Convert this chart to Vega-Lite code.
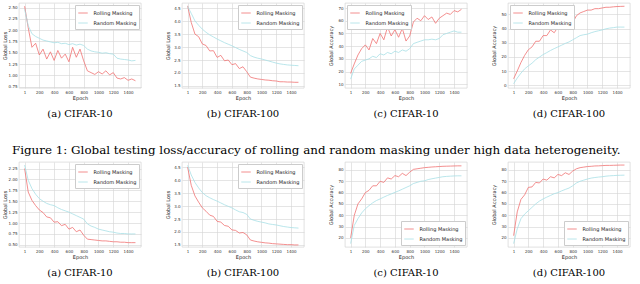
{
  "$schema": "https://vega.github.io/schema/vega-lite/v6.json",
  "padding": {"left": 2, "top": 2, "right": 2, "bottom": 2},
  "background": "white",
  "datasets": {
    "a1": [
      {"s":"Rolling Masking","e":1,"v":2.53},{"s":"Rolling Masking","e":50,"v":2.05},{"s":"Rolling Masking","e":100,"v":1.62},{"s":"Rolling Masking","e":150,"v":1.71},{"s":"Rolling Masking","e":200,"v":1.45},{"s":"Rolling Masking","e":250,"v":1.58},{"s":"Rolling Masking","e":300,"v":1.36},{"s":"Rolling Masking","e":350,"v":1.52},{"s":"Rolling Masking","e":400,"v":1.33},{"s":"Rolling Masking","e":450,"v":1.55},{"s":"Rolling Masking","e":500,"v":1.38},{"s":"Rolling Masking","e":550,"v":1.47},{"s":"Rolling Masking","e":600,"v":1.30},{"s":"Rolling Masking","e":650,"v":1.62},{"s":"Rolling Masking","e":700,"v":1.40},{"s":"Rolling Masking","e":750,"v":1.58},{"s":"Rolling Masking","e":800,"v":1.32},{"s":"Rolling Masking","e":850,"v":1.10},{"s":"Rolling Masking","e":900,"v":1.06},{"s":"Rolling Masking","e":950,"v":1.02},{"s":"Rolling Masking","e":1000,"v":1.08},{"s":"Rolling Masking","e":1050,"v":1.03},{"s":"Rolling Masking","e":1100,"v":1.10},{"s":"Rolling Masking","e":1150,"v":1.01},{"s":"Rolling Masking","e":1200,"v":1.06},{"s":"Rolling Masking","e":1250,"v":0.94},{"s":"Rolling Masking","e":1300,"v":0.92},{"s":"Rolling Masking","e":1350,"v":0.95},{"s":"Rolling Masking","e":1400,"v":0.89},{"s":"Rolling Masking","e":1450,"v":0.92},{"s":"Rolling Masking","e":1500,"v":0.88},
      {"s":"Random Masking","e":1,"v":2.46},{"s":"Random Masking","e":50,"v":2.10},{"s":"Random Masking","e":100,"v":1.92},{"s":"Random Masking","e":150,"v":1.86},{"s":"Random Masking","e":200,"v":1.82},{"s":"Random Masking","e":250,"v":1.78},{"s":"Random Masking","e":300,"v":1.76},{"s":"Random Masking","e":350,"v":1.74},{"s":"Random Masking","e":400,"v":1.72},{"s":"Random Masking","e":450,"v":1.73},{"s":"Random Masking","e":500,"v":1.70},{"s":"Random Masking","e":550,"v":1.71},{"s":"Random Masking","e":600,"v":1.68},{"s":"Random Masking","e":650,"v":1.70},{"s":"Random Masking","e":700,"v":1.67},{"s":"Random Masking","e":750,"v":1.69},{"s":"Random Masking","e":800,"v":1.66},{"s":"Random Masking","e":850,"v":1.58},{"s":"Random Masking","e":900,"v":1.54},{"s":"Random Masking","e":950,"v":1.52},{"s":"Random Masking","e":1000,"v":1.51},{"s":"Random Masking","e":1050,"v":1.49},{"s":"Random Masking","e":1100,"v":1.50},{"s":"Random Masking","e":1150,"v":1.48},{"s":"Random Masking","e":1200,"v":1.47},{"s":"Random Masking","e":1250,"v":1.38},{"s":"Random Masking","e":1300,"v":1.36},{"s":"Random Masking","e":1350,"v":1.35},{"s":"Random Masking","e":1400,"v":1.34},{"s":"Random Masking","e":1450,"v":1.32},{"s":"Random Masking","e":1500,"v":1.33}
    ],
    "b1": [
      {"s":"Rolling Masking","e":1,"v":4.59},{"s":"Rolling Masking","e":50,"v":3.95},{"s":"Rolling Masking","e":100,"v":3.50},{"s":"Rolling Masking","e":150,"v":3.40},{"s":"Rolling Masking","e":200,"v":3.12},{"s":"Rolling Masking","e":250,"v":3.06},{"s":"Rolling Masking","e":300,"v":2.85},{"s":"Rolling Masking","e":350,"v":2.86},{"s":"Rolling Masking","e":400,"v":2.60},{"s":"Rolling Masking","e":450,"v":2.68},{"s":"Rolling Masking","e":500,"v":2.47},{"s":"Rolling Masking","e":550,"v":2.50},{"s":"Rolling Masking","e":600,"v":2.32},{"s":"Rolling Masking","e":650,"v":2.36},{"s":"Rolling Masking","e":700,"v":2.17},{"s":"Rolling Masking","e":750,"v":2.24},{"s":"Rolling Masking","e":800,"v":2.05},{"s":"Rolling Masking","e":850,"v":1.84},{"s":"Rolling Masking","e":900,"v":1.80},{"s":"Rolling Masking","e":950,"v":1.77},{"s":"Rolling Masking","e":1000,"v":1.75},{"s":"Rolling Masking","e":1050,"v":1.73},{"s":"Rolling Masking","e":1100,"v":1.72},{"s":"Rolling Masking","e":1150,"v":1.70},{"s":"Rolling Masking","e":1200,"v":1.69},{"s":"Rolling Masking","e":1250,"v":1.66},{"s":"Rolling Masking","e":1300,"v":1.66},{"s":"Rolling Masking","e":1350,"v":1.65},{"s":"Rolling Masking","e":1400,"v":1.65},{"s":"Rolling Masking","e":1450,"v":1.64},{"s":"Rolling Masking","e":1500,"v":1.64},
      {"s":"Random Masking","e":1,"v":4.57},{"s":"Random Masking","e":50,"v":4.30},{"s":"Random Masking","e":100,"v":4.01},{"s":"Random Masking","e":150,"v":3.84},{"s":"Random Masking","e":200,"v":3.69},{"s":"Random Masking","e":250,"v":3.57},{"s":"Random Masking","e":300,"v":3.47},{"s":"Random Masking","e":350,"v":3.39},{"s":"Random Masking","e":400,"v":3.31},{"s":"Random Masking","e":450,"v":3.24},{"s":"Random Masking","e":500,"v":3.17},{"s":"Random Masking","e":550,"v":3.11},{"s":"Random Masking","e":600,"v":3.05},{"s":"Random Masking","e":650,"v":2.98},{"s":"Random Masking","e":700,"v":2.91},{"s":"Random Masking","e":750,"v":2.85},{"s":"Random Masking","e":800,"v":2.79},{"s":"Random Masking","e":850,"v":2.67},{"s":"Random Masking","e":900,"v":2.61},{"s":"Random Masking","e":950,"v":2.57},{"s":"Random Masking","e":1000,"v":2.54},{"s":"Random Masking","e":1050,"v":2.50},{"s":"Random Masking","e":1100,"v":2.46},{"s":"Random Masking","e":1150,"v":2.42},{"s":"Random Masking","e":1200,"v":2.38},{"s":"Random Masking","e":1250,"v":2.35},{"s":"Random Masking","e":1300,"v":2.33},{"s":"Random Masking","e":1350,"v":2.31},{"s":"Random Masking","e":1400,"v":2.30},{"s":"Random Masking","e":1450,"v":2.29},{"s":"Random Masking","e":1500,"v":2.28}
    ],
    "c1": [
      {"s":"Rolling Masking","e":1,"v":18.5},{"s":"Rolling Masking","e":50,"v":26},{"s":"Rolling Masking","e":100,"v":33},{"s":"Rolling Masking","e":150,"v":38},{"s":"Rolling Masking","e":200,"v":41},{"s":"Rolling Masking","e":250,"v":37},{"s":"Rolling Masking","e":300,"v":46},{"s":"Rolling Masking","e":350,"v":42},{"s":"Rolling Masking","e":400,"v":50},{"s":"Rolling Masking","e":450,"v":45},{"s":"Rolling Masking","e":500,"v":55},{"s":"Rolling Masking","e":550,"v":48},{"s":"Rolling Masking","e":600,"v":53},{"s":"Rolling Masking","e":650,"v":47},{"s":"Rolling Masking","e":700,"v":54},{"s":"Rolling Masking","e":750,"v":44},{"s":"Rolling Masking","e":800,"v":48},{"s":"Rolling Masking","e":850,"v":59},{"s":"Rolling Masking","e":900,"v":62},{"s":"Rolling Masking","e":950,"v":60},{"s":"Rolling Masking","e":1000,"v":64},{"s":"Rolling Masking","e":1050,"v":61},{"s":"Rolling Masking","e":1100,"v":63},{"s":"Rolling Masking","e":1150,"v":58},{"s":"Rolling Masking","e":1200,"v":62},{"s":"Rolling Masking","e":1250,"v":64},{"s":"Rolling Masking","e":1300,"v":66},{"s":"Rolling Masking","e":1350,"v":65},{"s":"Rolling Masking","e":1400,"v":68},{"s":"Rolling Masking","e":1450,"v":67},{"s":"Rolling Masking","e":1500,"v":69},
      {"s":"Random Masking","e":1,"v":14},{"s":"Random Masking","e":50,"v":22},{"s":"Random Masking","e":100,"v":25},{"s":"Random Masking","e":150,"v":28},{"s":"Random Masking","e":200,"v":29},{"s":"Random Masking","e":250,"v":30},{"s":"Random Masking","e":300,"v":32},{"s":"Random Masking","e":350,"v":31},{"s":"Random Masking","e":400,"v":34},{"s":"Random Masking","e":450,"v":33},{"s":"Random Masking","e":500,"v":35},{"s":"Random Masking","e":550,"v":34},{"s":"Random Masking","e":600,"v":36},{"s":"Random Masking","e":650,"v":35},{"s":"Random Masking","e":700,"v":37},{"s":"Random Masking","e":750,"v":36},{"s":"Random Masking","e":800,"v":38},{"s":"Random Masking","e":850,"v":42},{"s":"Random Masking","e":900,"v":43},{"s":"Random Masking","e":950,"v":44},{"s":"Random Masking","e":1000,"v":45},{"s":"Random Masking","e":1050,"v":45},{"s":"Random Masking","e":1100,"v":45.5},{"s":"Random Masking","e":1150,"v":45},{"s":"Random Masking","e":1200,"v":46},{"s":"Random Masking","e":1250,"v":49},{"s":"Random Masking","e":1300,"v":50},{"s":"Random Masking","e":1350,"v":51},{"s":"Random Masking","e":1400,"v":52},{"s":"Random Masking","e":1450,"v":51},{"s":"Random Masking","e":1500,"v":51}
    ],
    "d1": [
      {"s":"Rolling Masking","e":1,"v":4.5},{"s":"Rolling Masking","e":50,"v":10},{"s":"Rolling Masking","e":100,"v":16},{"s":"Rolling Masking","e":150,"v":21},{"s":"Rolling Masking","e":200,"v":25},{"s":"Rolling Masking","e":250,"v":27},{"s":"Rolling Masking","e":300,"v":31},{"s":"Rolling Masking","e":350,"v":31},{"s":"Rolling Masking","e":400,"v":35},{"s":"Rolling Masking","e":450,"v":35},{"s":"Rolling Masking","e":500,"v":39},{"s":"Rolling Masking","e":550,"v":37},{"s":"Rolling Masking","e":600,"v":41},{"s":"Rolling Masking","e":650,"v":40},{"s":"Rolling Masking","e":700,"v":43},{"s":"Rolling Masking","e":750,"v":41},{"s":"Rolling Masking","e":800,"v":44},{"s":"Rolling Masking","e":850,"v":49},{"s":"Rolling Masking","e":900,"v":51},{"s":"Rolling Masking","e":950,"v":52},{"s":"Rolling Masking","e":1000,"v":53},{"s":"Rolling Masking","e":1050,"v":53},{"s":"Rolling Masking","e":1100,"v":54},{"s":"Rolling Masking","e":1150,"v":54},{"s":"Rolling Masking","e":1200,"v":54.5},{"s":"Rolling Masking","e":1250,"v":55},{"s":"Rolling Masking","e":1300,"v":55},{"s":"Rolling Masking","e":1350,"v":55.3},{"s":"Rolling Masking","e":1400,"v":55.5},{"s":"Rolling Masking","e":1450,"v":55.6},{"s":"Rolling Masking","e":1500,"v":55.7},
      {"s":"Random Masking","e":1,"v":1},{"s":"Random Masking","e":50,"v":5},{"s":"Random Masking","e":100,"v":8.5},{"s":"Random Masking","e":150,"v":11.5},{"s":"Random Masking","e":200,"v":13.6},{"s":"Random Masking","e":250,"v":15.5},{"s":"Random Masking","e":300,"v":18},{"s":"Random Masking","e":350,"v":19.8},{"s":"Random Masking","e":400,"v":21.6},{"s":"Random Masking","e":450,"v":23},{"s":"Random Masking","e":500,"v":24.5},{"s":"Random Masking","e":550,"v":25.8},{"s":"Random Masking","e":600,"v":27},{"s":"Random Masking","e":650,"v":28.2},{"s":"Random Masking","e":700,"v":29.5},{"s":"Random Masking","e":750,"v":30.5},{"s":"Random Masking","e":800,"v":32},{"s":"Random Masking","e":850,"v":33.5},{"s":"Random Masking","e":900,"v":35},{"s":"Random Masking","e":950,"v":35.6},{"s":"Random Masking","e":1000,"v":36},{"s":"Random Masking","e":1050,"v":37},{"s":"Random Masking","e":1100,"v":37.8},{"s":"Random Masking","e":1150,"v":38.4},{"s":"Random Masking","e":1200,"v":39},{"s":"Random Masking","e":1250,"v":39.8},{"s":"Random Masking","e":1300,"v":40.3},{"s":"Random Masking","e":1350,"v":40.6},{"s":"Random Masking","e":1400,"v":41},{"s":"Random Masking","e":1450,"v":41},{"s":"Random Masking","e":1500,"v":41}
    ],
    "a2": [
      {"s":"Rolling Masking","e":1,"v":2.25},{"s":"Rolling Masking","e":50,"v":1.71},{"s":"Rolling Masking","e":100,"v":1.52},{"s":"Rolling Masking","e":150,"v":1.40},{"s":"Rolling Masking","e":200,"v":1.30},{"s":"Rolling Masking","e":250,"v":1.24},{"s":"Rolling Masking","e":300,"v":1.14},{"s":"Rolling Masking","e":350,"v":1.12},{"s":"Rolling Masking","e":400,"v":1.02},{"s":"Rolling Masking","e":450,"v":1.03},{"s":"Rolling Masking","e":500,"v":0.94},{"s":"Rolling Masking","e":550,"v":0.97},{"s":"Rolling Masking","e":600,"v":0.86},{"s":"Rolling Masking","e":650,"v":0.90},{"s":"Rolling Masking","e":700,"v":0.80},{"s":"Rolling Masking","e":750,"v":0.84},{"s":"Rolling Masking","e":800,"v":0.72},{"s":"Rolling Masking","e":850,"v":0.63},{"s":"Rolling Masking","e":900,"v":0.62},{"s":"Rolling Masking","e":950,"v":0.61},{"s":"Rolling Masking","e":1000,"v":0.60},{"s":"Rolling Masking","e":1050,"v":0.59},{"s":"Rolling Masking","e":1100,"v":0.59},{"s":"Rolling Masking","e":1150,"v":0.58},{"s":"Rolling Masking","e":1200,"v":0.57},{"s":"Rolling Masking","e":1250,"v":0.57},{"s":"Rolling Masking","e":1300,"v":0.56},{"s":"Rolling Masking","e":1350,"v":0.56},{"s":"Rolling Masking","e":1400,"v":0.55},{"s":"Rolling Masking","e":1450,"v":0.55},{"s":"Rolling Masking","e":1500,"v":0.55},
      {"s":"Random Masking","e":1,"v":2.33},{"s":"Random Masking","e":50,"v":1.98},{"s":"Random Masking","e":100,"v":1.79},{"s":"Random Masking","e":150,"v":1.66},{"s":"Random Masking","e":200,"v":1.56},{"s":"Random Masking","e":250,"v":1.50},{"s":"Random Masking","e":300,"v":1.45},{"s":"Random Masking","e":350,"v":1.42},{"s":"Random Masking","e":400,"v":1.40},{"s":"Random Masking","e":450,"v":1.35},{"s":"Random Masking","e":500,"v":1.31},{"s":"Random Masking","e":550,"v":1.28},{"s":"Random Masking","e":600,"v":1.25},{"s":"Random Masking","e":650,"v":1.21},{"s":"Random Masking","e":700,"v":1.17},{"s":"Random Masking","e":750,"v":1.13},{"s":"Random Masking","e":800,"v":1.09},{"s":"Random Masking","e":850,"v":0.98},{"s":"Random Masking","e":900,"v":0.93},{"s":"Random Masking","e":950,"v":0.90},{"s":"Random Masking","e":1000,"v":0.86},{"s":"Random Masking","e":1050,"v":0.84},{"s":"Random Masking","e":1100,"v":0.82},{"s":"Random Masking","e":1150,"v":0.80},{"s":"Random Masking","e":1200,"v":0.79},{"s":"Random Masking","e":1250,"v":0.77},{"s":"Random Masking","e":1300,"v":0.76},{"s":"Random Masking","e":1350,"v":0.76},{"s":"Random Masking","e":1400,"v":0.75},{"s":"Random Masking","e":1450,"v":0.75},{"s":"Random Masking","e":1500,"v":0.75}
    ],
    "b2": [
      {"s":"Rolling Masking","e":1,"v":4.5},{"s":"Rolling Masking","e":50,"v":3.80},{"s":"Rolling Masking","e":100,"v":3.39},{"s":"Rolling Masking","e":150,"v":3.15},{"s":"Rolling Masking","e":200,"v":2.93},{"s":"Rolling Masking","e":250,"v":2.80},{"s":"Rolling Masking","e":300,"v":2.65},{"s":"Rolling Masking","e":350,"v":2.60},{"s":"Rolling Masking","e":400,"v":2.41},{"s":"Rolling Masking","e":450,"v":2.38},{"s":"Rolling Masking","e":500,"v":2.25},{"s":"Rolling Masking","e":550,"v":2.22},{"s":"Rolling Masking","e":600,"v":2.08},{"s":"Rolling Masking","e":650,"v":2.06},{"s":"Rolling Masking","e":700,"v":1.96},{"s":"Rolling Masking","e":750,"v":1.98},{"s":"Rolling Masking","e":800,"v":1.89},{"s":"Rolling Masking","e":850,"v":1.69},{"s":"Rolling Masking","e":900,"v":1.65},{"s":"Rolling Masking","e":950,"v":1.62},{"s":"Rolling Masking","e":1000,"v":1.60},{"s":"Rolling Masking","e":1050,"v":1.58},{"s":"Rolling Masking","e":1100,"v":1.57},{"s":"Rolling Masking","e":1150,"v":1.55},{"s":"Rolling Masking","e":1200,"v":1.54},{"s":"Rolling Masking","e":1250,"v":1.53},{"s":"Rolling Masking","e":1300,"v":1.52},{"s":"Rolling Masking","e":1350,"v":1.51},{"s":"Rolling Masking","e":1400,"v":1.51},{"s":"Rolling Masking","e":1450,"v":1.50},{"s":"Rolling Masking","e":1500,"v":1.50},
      {"s":"Random Masking","e":1,"v":4.57},{"s":"Random Masking","e":50,"v":4.20},{"s":"Random Masking","e":100,"v":3.91},{"s":"Random Masking","e":150,"v":3.70},{"s":"Random Masking","e":200,"v":3.52},{"s":"Random Masking","e":250,"v":3.40},{"s":"Random Masking","e":300,"v":3.32},{"s":"Random Masking","e":350,"v":3.25},{"s":"Random Masking","e":400,"v":3.19},{"s":"Random Masking","e":450,"v":3.12},{"s":"Random Masking","e":500,"v":3.05},{"s":"Random Masking","e":550,"v":2.99},{"s":"Random Masking","e":600,"v":2.93},{"s":"Random Masking","e":650,"v":2.85},{"s":"Random Masking","e":700,"v":2.78},{"s":"Random Masking","e":750,"v":2.75},{"s":"Random Masking","e":800,"v":2.68},{"s":"Random Masking","e":850,"v":2.50},{"s":"Random Masking","e":900,"v":2.45},{"s":"Random Masking","e":950,"v":2.41},{"s":"Random Masking","e":1000,"v":2.38},{"s":"Random Masking","e":1050,"v":2.35},{"s":"Random Masking","e":1100,"v":2.31},{"s":"Random Masking","e":1150,"v":2.29},{"s":"Random Masking","e":1200,"v":2.27},{"s":"Random Masking","e":1250,"v":2.24},{"s":"Random Masking","e":1300,"v":2.21},{"s":"Random Masking","e":1350,"v":2.19},{"s":"Random Masking","e":1400,"v":2.17},{"s":"Random Masking","e":1450,"v":2.16},{"s":"Random Masking","e":1500,"v":2.15}
    ],
    "c2": [
      {"s":"Rolling Masking","e":1,"v":20},{"s":"Rolling Masking","e":50,"v":39.8},{"s":"Rolling Masking","e":100,"v":50},{"s":"Rolling Masking","e":150,"v":54.4},{"s":"Rolling Masking","e":200,"v":60},{"s":"Rolling Masking","e":250,"v":62},{"s":"Rolling Masking","e":300,"v":66},{"s":"Rolling Masking","e":350,"v":66},{"s":"Rolling Masking","e":400,"v":70},{"s":"Rolling Masking","e":450,"v":69},{"s":"Rolling Masking","e":500,"v":73},{"s":"Rolling Masking","e":550,"v":72},{"s":"Rolling Masking","e":600,"v":75},{"s":"Rolling Masking","e":650,"v":74},{"s":"Rolling Masking","e":700,"v":77},{"s":"Rolling Masking","e":750,"v":75},{"s":"Rolling Masking","e":800,"v":78},{"s":"Rolling Masking","e":850,"v":80.5},{"s":"Rolling Masking","e":900,"v":81},{"s":"Rolling Masking","e":950,"v":81.5},{"s":"Rolling Masking","e":1000,"v":82},{"s":"Rolling Masking","e":1050,"v":82.3},{"s":"Rolling Masking","e":1100,"v":82.6},{"s":"Rolling Masking","e":1150,"v":82.8},{"s":"Rolling Masking","e":1200,"v":83},{"s":"Rolling Masking","e":1250,"v":83.2},{"s":"Rolling Masking","e":1300,"v":83.3},{"s":"Rolling Masking","e":1350,"v":83.4},{"s":"Rolling Masking","e":1400,"v":83.5},{"s":"Rolling Masking","e":1450,"v":83.6},{"s":"Rolling Masking","e":1500,"v":83.6},
      {"s":"Random Masking","e":1,"v":15},{"s":"Random Masking","e":50,"v":31},{"s":"Random Masking","e":100,"v":37},{"s":"Random Masking","e":150,"v":42},{"s":"Random Masking","e":200,"v":45.7},{"s":"Random Masking","e":250,"v":48.5},{"s":"Random Masking","e":300,"v":51},{"s":"Random Masking","e":350,"v":53},{"s":"Random Masking","e":400,"v":54.4},{"s":"Random Masking","e":450,"v":56},{"s":"Random Masking","e":500,"v":57.5},{"s":"Random Masking","e":550,"v":58.8},{"s":"Random Masking","e":600,"v":60.2},{"s":"Random Masking","e":650,"v":61.5},{"s":"Random Masking","e":700,"v":63},{"s":"Random Masking","e":750,"v":64.5},{"s":"Random Masking","e":800,"v":66},{"s":"Random Masking","e":850,"v":68},{"s":"Random Masking","e":900,"v":69},{"s":"Random Masking","e":950,"v":70},{"s":"Random Masking","e":1000,"v":70.4},{"s":"Random Masking","e":1050,"v":71.5},{"s":"Random Masking","e":1100,"v":72.2},{"s":"Random Masking","e":1150,"v":72.8},{"s":"Random Masking","e":1200,"v":73.4},{"s":"Random Masking","e":1250,"v":74},{"s":"Random Masking","e":1300,"v":74.3},{"s":"Random Masking","e":1350,"v":74.5},{"s":"Random Masking","e":1400,"v":74.7},{"s":"Random Masking","e":1450,"v":74.8},{"s":"Random Masking","e":1500,"v":74.8}
    ],
    "d2": [
      {"s":"Rolling Masking","e":1,"v":22},{"s":"Rolling Masking","e":50,"v":43},{"s":"Rolling Masking","e":100,"v":54},{"s":"Rolling Masking","e":150,"v":58},{"s":"Rolling Masking","e":200,"v":64.6},{"s":"Rolling Masking","e":250,"v":65},{"s":"Rolling Masking","e":300,"v":69},{"s":"Rolling Masking","e":350,"v":68.5},{"s":"Rolling Masking","e":400,"v":72},{"s":"Rolling Masking","e":450,"v":71},{"s":"Rolling Masking","e":500,"v":74},{"s":"Rolling Masking","e":550,"v":73},{"s":"Rolling Masking","e":600,"v":76},{"s":"Rolling Masking","e":650,"v":75},{"s":"Rolling Masking","e":700,"v":77.5},{"s":"Rolling Masking","e":750,"v":76},{"s":"Rolling Masking","e":800,"v":79},{"s":"Rolling Masking","e":850,"v":81},{"s":"Rolling Masking","e":900,"v":82},{"s":"Rolling Masking","e":950,"v":82.5},{"s":"Rolling Masking","e":1000,"v":83},{"s":"Rolling Masking","e":1050,"v":83.2},{"s":"Rolling Masking","e":1100,"v":83.5},{"s":"Rolling Masking","e":1150,"v":83.6},{"s":"Rolling Masking","e":1200,"v":83.8},{"s":"Rolling Masking","e":1250,"v":84},{"s":"Rolling Masking","e":1300,"v":84},{"s":"Rolling Masking","e":1350,"v":84.1},{"s":"Rolling Masking","e":1400,"v":84.2},{"s":"Rolling Masking","e":1450,"v":84.3},{"s":"Rolling Masking","e":1500,"v":84.3},
      {"s":"Random Masking","e":1,"v":15},{"s":"Random Masking","e":50,"v":28},{"s":"Random Masking","e":100,"v":37},{"s":"Random Masking","e":150,"v":41},{"s":"Random Masking","e":200,"v":44},{"s":"Random Masking","e":250,"v":47},{"s":"Random Masking","e":300,"v":50},{"s":"Random Masking","e":350,"v":52.5},{"s":"Random Masking","e":400,"v":54.4},{"s":"Random Masking","e":450,"v":56},{"s":"Random Masking","e":500,"v":57.5},{"s":"Random Masking","e":550,"v":59},{"s":"Random Masking","e":600,"v":60},{"s":"Random Masking","e":650,"v":61.5},{"s":"Random Masking","e":700,"v":62.8},{"s":"Random Masking","e":750,"v":64},{"s":"Random Masking","e":800,"v":66},{"s":"Random Masking","e":850,"v":68.5},{"s":"Random Masking","e":900,"v":70},{"s":"Random Masking","e":950,"v":71},{"s":"Random Masking","e":1000,"v":72},{"s":"Random Masking","e":1050,"v":72.8},{"s":"Random Masking","e":1100,"v":73.3},{"s":"Random Masking","e":1150,"v":73.7},{"s":"Random Masking","e":1200,"v":74},{"s":"Random Masking","e":1250,"v":74.5},{"s":"Random Masking","e":1300,"v":74.8},{"s":"Random Masking","e":1350,"v":75},{"s":"Random Masking","e":1400,"v":75.2},{"s":"Random Masking","e":1450,"v":75.3},{"s":"Random Masking","e":1500,"v":75.4}
    ]
  },
  "config": {
    "view": {"stroke": "#cccccc", "strokeWidth": 0.6},
    "axis": {"labelFont": "DejaVu Sans", "titleFont": "DejaVu Sans", "labelFontSize": 4, "titleFontSize": 5, "titleFontWeight": "normal", "labelColor": "#333333", "titleColor": "#222222", "gridColor": "#d4d4d4", "gridWidth": 0.6, "domain": false, "ticks": false, "labelPadding": 2, "titlePadding": 1.5},
    "axisY": {"minExtent": 10, "maxExtent": 10},
    "axisX": {"minExtent": 6, "maxExtent": 6, "format": "d"},
    "legend": {"title": null, "labelFont": "DejaVu Sans", "labelFontSize": 5, "labelColor": "#222222", "symbolType": "stroke", "symbolSize": 90, "symbolStrokeWidth": 1.2, "strokeColor": "#cccccc", "fillColor": "white", "padding": 2.5, "rowPadding": 1, "offset": 2, "labelOffset": 5},
    "title": {"font": "DejaVu Serif", "fontSize": 10, "fontWeight": "normal", "color": "#000000", "offset": 8},
    "line": {"strokeWidth": 0.8}
  },
  "resolve": {"scale": {"color": "independent"}, "legend": {"color": "independent"}},
  "spacing": 24,
  "vconcat": [
    {
      "spacing": 23,
      "resolve": {"scale": {"color": "independent", "x": "independent", "y": "independent"}, "legend": {"color": "independent"}},
      "hconcat": [
        {"width": 122, "height": 85, "title": {"text": "(a) CIFAR-10", "orient": "bottom"}, "data": {"name": "a1"}, "mark": "line",
          "encoding": {"x": {"field": "e", "type": "quantitative", "scale": {"domain": [-75, 1575], "nice": false}, "axis": {"values": [1, 200, 400, 600, 800, 1000, 1200, 1400], "title": "Epoch"}},
            "y": {"field": "v", "type": "quantitative", "scale": {"domain": [0.72, 2.6], "nice": false, "zero": false}, "axis": {"values": [0.75, 1.0, 1.25, 1.5, 1.75, 2.0, 2.25, 2.5], "format": ".2f", "title": "Global Loss"}},
            "color": {"field": "s", "type": "nominal", "scale": {"domain": ["Rolling Masking", "Random Masking"], "range": ["#f07272", "#a8dfe6"]}, "legend": {"orient": "top-right"}}}},
        {"width": 122, "height": 85, "title": {"text": "(b) CIFAR-100", "orient": "bottom"}, "data": {"name": "b1"}, "mark": "line",
          "encoding": {"x": {"field": "e", "type": "quantitative", "scale": {"domain": [-75, 1575], "nice": false}, "axis": {"values": [1, 200, 400, 600, 800, 1000, 1200, 1400], "title": "Epoch"}},
            "y": {"field": "v", "type": "quantitative", "scale": {"domain": [1.42, 4.7], "nice": false, "zero": false}, "axis": {"values": [1.5, 2.0, 2.5, 3.0, 3.5, 4.0, 4.5], "format": ".1f", "title": "Global Loss"}},
            "color": {"field": "s", "type": "nominal", "scale": {"domain": ["Rolling Masking", "Random Masking"], "range": ["#f07272", "#a8dfe6"]}, "legend": {"orient": "top-right"}}}},
        {"width": 122, "height": 85, "title": {"text": "(c) CIFAR-10", "orient": "bottom"}, "data": {"name": "c1"}, "mark": "line",
          "encoding": {"x": {"field": "e", "type": "quantitative", "scale": {"domain": [-75, 1575], "nice": false}, "axis": {"values": [1, 200, 400, 600, 800, 1000, 1200, 1400], "title": "Epoch"}},
            "y": {"field": "v", "type": "quantitative", "scale": {"domain": [7, 74], "nice": false, "zero": false}, "axis": {"values": [10, 20, 30, 40, 50, 60, 70], "title": "Global Accuracy"}},
            "color": {"field": "s", "type": "nominal", "scale": {"domain": ["Rolling Masking", "Random Masking"], "range": ["#f07272", "#a8dfe6"]}, "legend": {"orient": "top-left"}}}},
        {"width": 122, "height": 85, "title": {"text": "(d) CIFAR-100", "orient": "bottom"}, "data": {"name": "d1"}, "mark": "line",
          "encoding": {"x": {"field": "e", "type": "quantitative", "scale": {"domain": [-75, 1575], "nice": false}, "axis": {"values": [1, 200, 400, 600, 800, 1000, 1200, 1400], "title": "Epoch"}},
            "y": {"field": "v", "type": "quantitative", "scale": {"domain": [-2, 58], "nice": false, "zero": false}, "axis": {"values": [0, 10, 20, 30, 40, 50], "title": "Global Accuracy"}},
            "color": {"field": "s", "type": "nominal", "scale": {"domain": ["Rolling Masking", "Random Masking"], "range": ["#f07272", "#a8dfe6"]}, "legend": {"orient": "top-left"}}}}
      ]
    },
    {
      "spacing": 23,
      "title": {"text": "Figure 1: Global testing loss/accuracy of rolling and random masking under high data heterogeneity.", "orient": "top", "anchor": "middle", "fontSize": 11.9, "offset": 5},
      "resolve": {"scale": {"color": "independent", "x": "independent", "y": "independent"}, "legend": {"color": "independent"}},
      "hconcat": [
        {"width": 122, "height": 85, "title": {"text": "(a) CIFAR-10", "orient": "bottom"}, "data": {"name": "a2"}, "mark": "line",
          "encoding": {"x": {"field": "e", "type": "quantitative", "scale": {"domain": [-75, 1575], "nice": false}, "axis": {"values": [1, 200, 400, 600, 800, 1000, 1200, 1400], "title": "Epoch"}},
            "y": {"field": "v", "type": "quantitative", "scale": {"domain": [0.45, 2.4], "nice": false, "zero": false}, "axis": {"values": [0.5, 0.75, 1.0, 1.25, 1.5, 1.75, 2.0, 2.25], "format": ".2f", "title": "Global Loss"}},
            "color": {"field": "s", "type": "nominal", "scale": {"domain": ["Rolling Masking", "Random Masking"], "range": ["#f07272", "#a8dfe6"]}, "legend": {"orient": "top-right"}}}},
        {"width": 122, "height": 85, "title": {"text": "(b) CIFAR-100", "orient": "bottom"}, "data": {"name": "b2"}, "mark": "line",
          "encoding": {"x": {"field": "e", "type": "quantitative", "scale": {"domain": [-75, 1575], "nice": false}, "axis": {"values": [1, 200, 400, 600, 800, 1000, 1200, 1400], "title": "Epoch"}},
            "y": {"field": "v", "type": "quantitative", "scale": {"domain": [1.42, 4.7], "nice": false, "zero": false}, "axis": {"values": [1.5, 2.0, 2.5, 3.0, 3.5, 4.0, 4.5], "format": ".1f", "title": "Global Loss"}},
            "color": {"field": "s", "type": "nominal", "scale": {"domain": ["Rolling Masking", "Random Masking"], "range": ["#f07272", "#a8dfe6"]}, "legend": {"orient": "top-right"}}}},
        {"width": 122, "height": 85, "title": {"text": "(c) CIFAR-10", "orient": "bottom"}, "data": {"name": "c2"}, "mark": "line",
          "encoding": {"x": {"field": "e", "type": "quantitative", "scale": {"domain": [-75, 1575], "nice": false}, "axis": {"values": [1, 200, 400, 600, 800, 1000, 1200, 1400], "title": "Epoch"}},
            "y": {"field": "v", "type": "quantitative", "scale": {"domain": [12, 87], "nice": false, "zero": false}, "axis": {"values": [20, 30, 40, 50, 60, 70, 80], "title": "Global Accuracy"}},
            "color": {"field": "s", "type": "nominal", "scale": {"domain": ["Rolling Masking", "Random Masking"], "range": ["#f07272", "#a8dfe6"]}, "legend": {"orient": "bottom-right"}}}},
        {"width": 122, "height": 85, "title": {"text": "(d) CIFAR-100", "orient": "bottom"}, "data": {"name": "d2"}, "mark": "line",
          "encoding": {"x": {"field": "e", "type": "quantitative", "scale": {"domain": [-75, 1575], "nice": false}, "axis": {"values": [1, 200, 400, 600, 800, 1000, 1200, 1400], "title": "Epoch"}},
            "y": {"field": "v", "type": "quantitative", "scale": {"domain": [12, 87], "nice": false, "zero": false}, "axis": {"values": [20, 30, 40, 50, 60, 70, 80], "title": "Global Accuracy"}},
            "color": {"field": "s", "type": "nominal", "scale": {"domain": ["Rolling Masking", "Random Masking"], "range": ["#f07272", "#a8dfe6"]}, "legend": {"orient": "bottom-right"}}}}
      ]
    }
  ]
}
